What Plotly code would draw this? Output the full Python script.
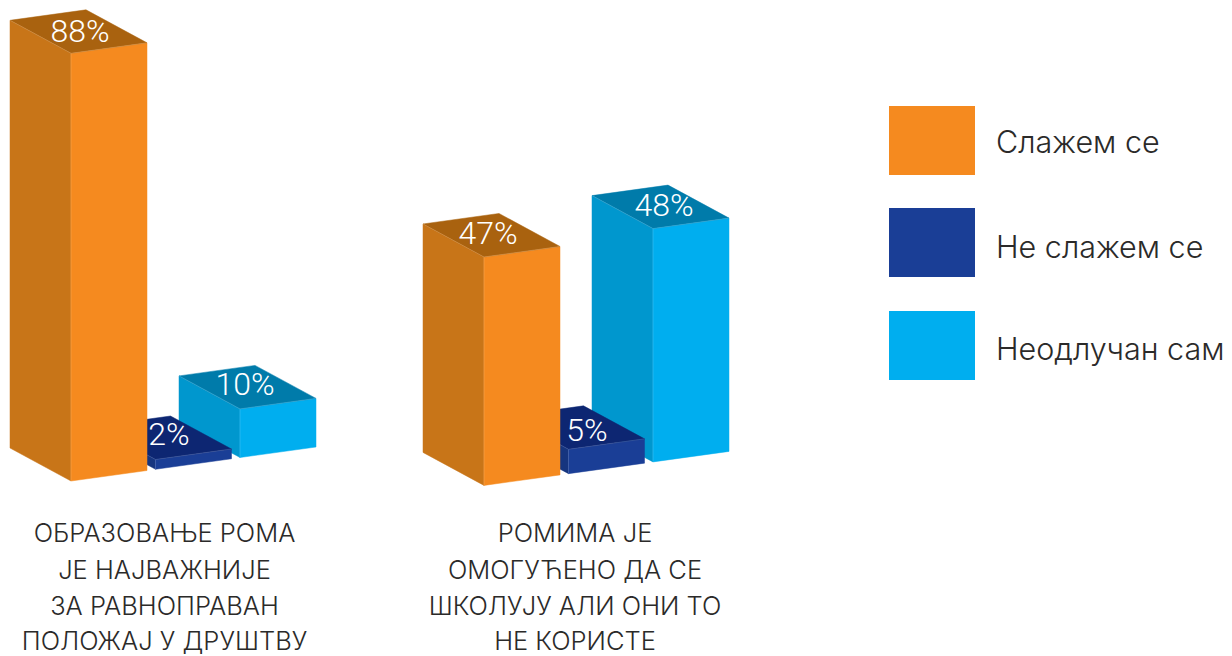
import plotly.graph_objects as go

# ---- data ----
groups = [
    ["ОБРАЗОВАЊЕ РОМА", "ЈЕ НАЈВАЖНИЈЕ", "ЗА РАВНОПРАВАН", "ПОЛОЖАЈ У ДРУШТВУ"],
    ["РОМИМА ЈЕ", "ОМОГУЋЕНО ДА СЕ", "ШКОЛУЈУ АЛИ ОНИ ТО", "НЕ КОРИСТЕ"],
]
series_names = ["Слажем се", "Не слажем се", "Неодлучан сам"]
agree = [88, 47]
disagree = [2, 5]
undecided = [10, 48]

# ---- projection of the pseudo-3D bars (pixels on a page-sized axis) ----
PX_PER_PCT = 4.86
ORIGIN = (71.0, 481.0)        # front-bottom corner, first bar
GROUP_STEP = (413.0, 4.4)
SERIES_STEP = (84.5, -11.75)
WIDTH_VEC = (76.0, -10.5)
DEPTH_VEC = (-61.0, -33.0)

front = ["#F58A1F", "#1A3E96", "#00AEEF"]
side = ["#C87518", "#16357F", "#0097CE"]
top = ["#A9620F", "#0D2672", "#007BAA"]
edge = ["#F9B877", "#6F86C2", "#66CEF5"]
label_nudge = [[(1.5, 2), (6, -0.5), (-2.5, 0)], [(-3.5, 1), (11, 5), (3.5, 1)]]

LEGEND_X = (889, 975)
LEGEND_Y = [(106, 175), (208, 277), (311, 380)]
LEGEND_TEXT_X = 996
LEGEND_TEXT_Y = [145, 250, 352]
CAT_X = [164.5, 575]
CAT_Y = [536, 572.5, 609, 643.5]

BODY_FONT = "Inter"
values = [agree, disagree, undecided]

fig = go.Figure()


def poly(points, color, line_color):
    xs = [p[0] for p in points] + [points[0][0]]
    ys = [p[1] for p in points] + [points[0][1]]
    fig.add_trace(go.Scatter(x=xs, y=ys, mode="lines", fill="toself", fillcolor=color,
                             line=dict(color=line_color, width=0.5), hoverinfo="skip",
                             showlegend=False))


labels = []
for g in range(len(groups)):
    for s in (2, 1, 0):  # back to front: cyan, navy, orange
        v = values[s][g]
        fx = ORIGIN[0] + g * GROUP_STEP[0] + s * SERIES_STEP[0]
        fy = ORIGIN[1] + g * GROUP_STEP[1] + s * SERIES_STEP[1]
        h = v * PX_PER_PCT
        wx, wy = WIDTH_VEC
        dx, dy = DEPTH_VEC
        poly([(fx, fy), (fx, fy - h), (fx + dx, fy - h + dy), (fx + dx, fy + dy)], side[s], side[s])
        poly([(fx, fy), (fx + wx, fy + wy), (fx + wx, fy + wy - h), (fx, fy - h)], front[s], front[s])
        poly([(fx, fy - h), (fx + wx, fy + wy - h), (fx + wx + dx, fy + wy + dy - h), (fx + dx, fy + dy - h)],
             top[s], top[s])
        # thin light highlights along the front edges
        fig.add_trace(go.Scatter(x=[fx + dx, fx, fx + wx, None, fx, fx],
                                 y=[fy + dy - h, fy - h, fy + wy - h, None, fy - h, fy],
                                 mode="lines", line=dict(color=edge[s], width=0.6),
                                 opacity=0.6, hoverinfo="skip", showlegend=False))
        nx, ny = label_nudge[g][s]
        labels.append((fx + (wx + dx) / 2 + nx, fy - h + (wy + dy) / 2 + ny, f"{v}%"))

fig.add_trace(go.Scatter(x=[l[0] for l in labels], y=[l[1] for l in labels],
                         text=[l[2] for l in labels], mode="text", textposition="middle center",
                         textfont=dict(family="Roboto", size=32, color="#FFFFFF", weight=300),
                         hoverinfo="skip", showlegend=False))

for g, lines in enumerate(groups):
    fig.add_trace(go.Scatter(x=[CAT_X[g]] * len(lines), y=CAT_Y, text=lines, mode="text",
                             textposition="middle center",
                             textfont=dict(family=BODY_FONT, size=25.5, color="#2B2A29", weight=300),
                             hoverinfo="skip", showlegend=False))

for s, name in enumerate(series_names):
    fig.add_shape(type="rect", x0=LEGEND_X[0], x1=LEGEND_X[1], y0=LEGEND_Y[s][0], y1=LEGEND_Y[s][1],
                  fillcolor=front[s], line_width=0, layer="below")
fig.add_trace(go.Scatter(x=[LEGEND_TEXT_X] * 3, y=LEGEND_TEXT_Y, text=series_names, mode="text",
                         textposition="middle right",
                         textfont=dict(family=BODY_FONT, size=30.5, color="#2B2A29", weight=300),
                         hoverinfo="skip", showlegend=False))

fig.update_layout(width=1232, height=656, margin=dict(l=0, r=0, t=0, b=0),
                  paper_bgcolor="white", plot_bgcolor="white", showlegend=False,
                  xaxis=dict(range=[0, 1232], visible=False, fixedrange=True),
                  yaxis=dict(range=[656, 0], visible=False, fixedrange=True))

fig.write_html("out.html", config={"displayModeBar": False},
               post_script="document.body.style.margin='0';document.body.style.overflow='hidden';")
